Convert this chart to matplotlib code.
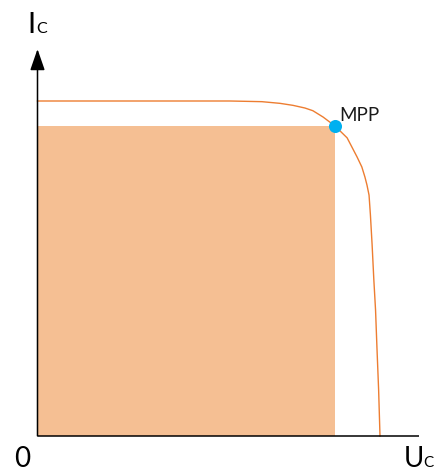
import matplotlib
matplotlib.use("Agg")
import matplotlib.pyplot as plt

# Normalised I-V characteristic of a solar cell (U / Uoc, I / Isc)
voltage = [0.0, 0.328, 0.562, 0.655, 0.708, 0.746, 0.781, 0.804, 0.834, 0.869,
           0.904, 0.933, 0.947, 0.956, 0.962, 0.968, 0.972, 0.977, 0.982,
           0.987, 0.991, 0.996, 1.0]
current = [1.0, 1.0, 1.0, 0.998, 0.993, 0.987, 0.979, 0.971, 0.952, 0.925,
           0.890, 0.833, 0.803, 0.773, 0.749, 0.719, 0.660, 0.570, 0.466,
           0.376, 0.266, 0.137, 0.0]

# Maximum power point
mpp_u = 0.869
mpp_i = 0.925

curve_color = "#ED7D31"
fill_color = "#F5BF93"
mpp_color = "#00B0F0"
font = ["Lato", "DejaVu Sans"]

fig = plt.figure(figsize=(4.41, 4.72), dpi=100)
ax = fig.add_axes([0, 0, 1, 1])
ax.set_xlim(-0.1095, 1.1781)
ax.set_ylim(-0.1075, 1.3015)
ax.axis("off")

# Power rectangle at the MPP
ax.fill_between([0, mpp_u], 0, mpp_i, color=fill_color, lw=0, zorder=1)

# I-V curve
ax.plot(voltage, current, color=curve_color, lw=1.0, zorder=2,
        solid_joinstyle="round")

# MPP marker
ax.plot([mpp_u], [mpp_i], "o", color=mpp_color, ms=9.4, mec="none", zorder=4)
ax.text(mpp_u + 0.013, mpp_i + 0.016, "MPP", fontsize=13.5, family=font,
        ha="left", va="baseline", color="#1a1a1a")

# Axes with arrow on the current axis
ax.plot([0, 1.114], [0, 0], color="black", lw=1.1, zorder=3,
        solid_capstyle="butt")
ax.annotate("", xy=(0, 1.155), xytext=(0, 0),
            arrowprops=dict(arrowstyle="-|>,head_length=1.3,head_width=0.45",
                            color="black", lw=1.1, shrinkA=0, shrinkB=0),
            zorder=3)

# Axis labels
ax.text(-0.0175, 1.203, "I", fontsize=21, family=font, ha="center", va="baseline")
ax.text(-0.004, 1.203, "C", fontsize=11.5, family=font, ha="left", va="baseline")
ax.text(-0.0452, -0.0925, "0", fontsize=20, family=font, ha="center", va="baseline")
ax.text(1.0705, -0.0925, "U", fontsize=20, family=font, ha="left", va="baseline")
ax.text(1.126, -0.0925, "C", fontsize=11, family=font, ha="left", va="baseline")

fig.savefig("out.png", dpi=100)
